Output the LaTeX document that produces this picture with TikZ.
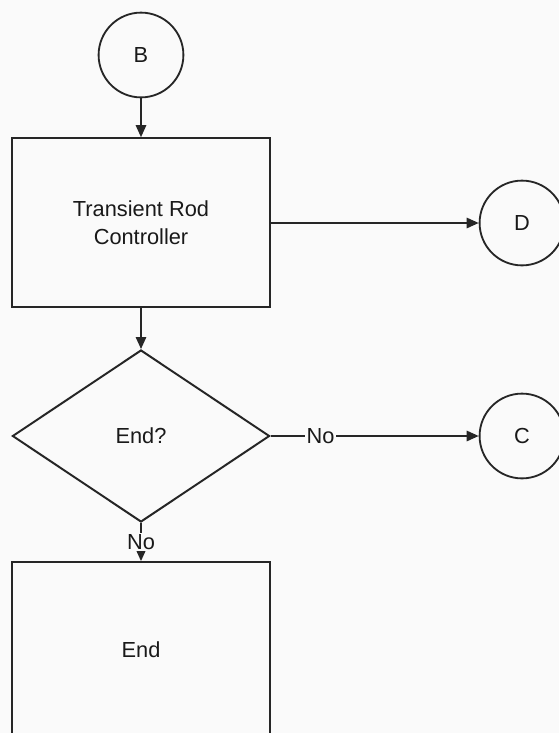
\documentclass[tikz,border=0pt]{standalone}
\usepackage{fontspec}
\setmainfont{Liberation Sans}
\usepackage{tikz}
\usetikzlibrary{arrows.meta, positioning, shapes.geometric}

\begin{document}
\begin{tikzpicture}[
  font=\fontsize{15.5}{20}\selectfont,
  text=black!90,
  conn/.style={circle, draw=black!85, line width=1.3pt,
               minimum size=2.12cm, inner sep=0pt},
  proc/.style={rectangle, draw=black!85, line width=1.3pt,
               minimum width=6.43cm, minimum height=4.22cm, align=center},
  dec/.style={diamond, draw=black!85, line width=1.4pt,
              minimum width=6.43cm, minimum height=4.3cm, inner sep=0pt},
  lbl/.style={fill=gray!4, inner sep=1pt},
  arr/.style={-{Triangle[length=3mm, width=2.6mm]}, line width=1.2pt, draw=black!85}
]
%% frame
\fill[gray!4] (0,0) rectangle (13.975,-18.325);
\clip (0,0) rectangle (13.975,-18.325);
%% nodes
\node[conn] (c_b)    at (3.525, -1.375)  {B};
\node[proc] (p_ctrl) at (3.525, -5.5625) {Transient Rod\\Controller};
\node[conn] (c_d)    at (13.05, -5.575)  {D};
\node[dec]  (d_end)  at (3.525, -10.9)   {End?};
\node[conn] (c_c)    at (13.05, -10.9)   {C};
\node[proc, minimum height=4.4cm] (p_end) at (3.525, -16.25) {End};
%% arrows
\draw[arr] (c_b) -- (p_ctrl);
\draw[arr] (p_ctrl.east |- c_d) -- (c_d);
\draw[arr] (p_ctrl) -- (d_end);
\draw[arr] (d_end.east) -- (c_c)
    node[lbl, pos=0.24] {No};
\draw[arr] (d_end.south) -- (p_end.north)
    node[lbl, midway] {No};
\end{tikzpicture}
\end{document}
